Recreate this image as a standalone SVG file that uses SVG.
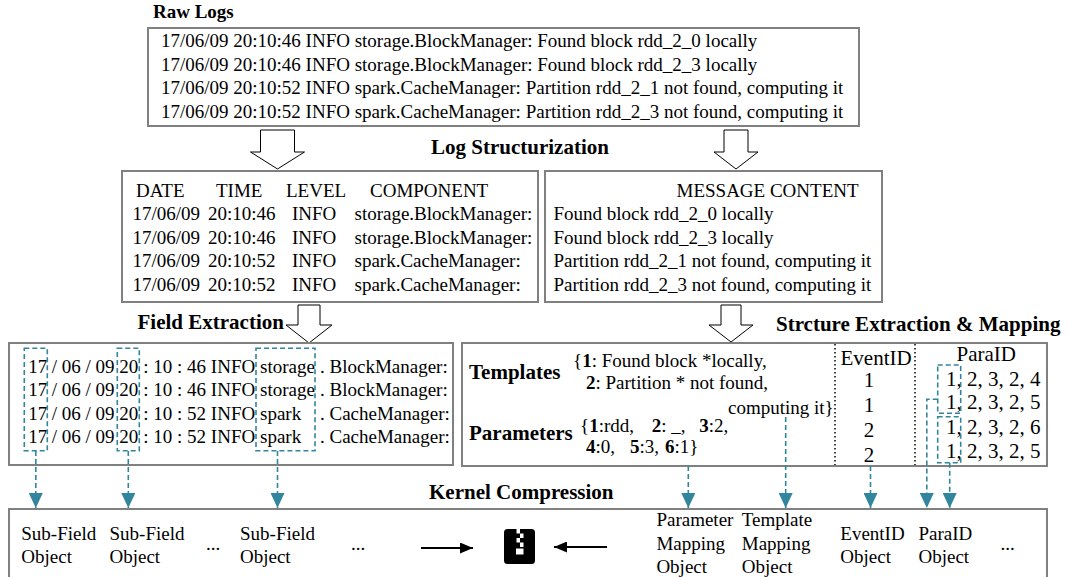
<svg xmlns="http://www.w3.org/2000/svg" width="1069" height="577" viewBox="0 0 1069 577">
<defs>
<style>
.box{fill:#fff;stroke:#808080;stroke-width:2}
.t{font-family:"Liberation Serif","Times New Roman",serif;font-size:19px;fill:#000}
.b{font-weight:bold;font-size:21px}
.bb{font-weight:bold}
.big{font-size:21px}
.dash{fill:none;stroke:#31859C;stroke-width:1.6;stroke-dasharray:5 3}
.dot{stroke:#000;stroke-width:1.5;stroke-dasharray:1.5 2.5}
.blk{fill:#fff;stroke:#000;stroke-width:1}
.conn{fill:none;stroke:#31859C;stroke-width:1.6;stroke-dasharray:5 3}
.arr{fill:none;stroke:#000;stroke-width:1.8}
</style>
<marker id="tealHead" viewBox="0 0 15 14" refX="15" refY="7" markerWidth="15" markerHeight="14" markerUnits="userSpaceOnUse" orient="auto">
<path d="M0,0 L15,7 L0,14 Z" fill="#31859C"/>
</marker>
<marker id="blackHead" viewBox="0 0 13 11" refX="13" refY="5.5" markerWidth="13" markerHeight="11" markerUnits="userSpaceOnUse" orient="auto">
<path d="M0,0 L13,5.5 L0,11 Z" fill="#000"/>
</marker>
</defs>
<rect width="1069" height="577" fill="#fff"/>

<g id="raw-logs">
<text class="t b" x="153" y="18" style="font-size:19px">Raw Logs</text>
<rect class="box" x="148" y="28" width="711" height="98"/>
<text class="t" x="161" y="47">17/06/09 20:10:46 INFO storage.BlockManager: Found block rdd_2_0 locally</text>
<text class="t" x="161" y="70.5">17/06/09 20:10:46 INFO storage.BlockManager: Found block rdd_2_3 locally</text>
<text class="t" x="161" y="94">17/06/09 20:10:52 INFO spark.CacheManager: Partition rdd_2_1 not found, computing it</text>
<text class="t" x="161" y="117.5">17/06/09 20:10:52 INFO spark.CacheManager: Partition rdd_2_3 not found, computing it</text>
</g>

<g id="log-structurization">
<path class="blk" d="M260.5,130 H294.5 V152 H304.5 L277.5,169 L250.5,152 H260.5 Z"/>
<path class="blk" d="M724,130 H748 V152 H758 L736,169 L714,152 H724 Z"/>
<text class="t b" x="431" y="154">Log Structurization</text>
</g>

<g id="structured-fields">
<rect class="box" x="122" y="171" width="416" height="131"/>
<text class="t" y="197"><tspan x="136">DATE</tspan><tspan x="216">TIME</tspan><tspan x="286">LEVEL</tspan><tspan x="370">COMPONENT</tspan></text>
<text class="t" y="220"><tspan x="132.5">17/06/09</tspan><tspan x="208">20:10:46</tspan><tspan x="292">INFO</tspan><tspan x="354.5">storage.BlockManager:</tspan></text>
<text class="t" y="243.5"><tspan x="132.5">17/06/09</tspan><tspan x="208">20:10:46</tspan><tspan x="292">INFO</tspan><tspan x="354.5">storage.BlockManager:</tspan></text>
<text class="t" y="267"><tspan x="132.5">17/06/09</tspan><tspan x="208">20:10:52</tspan><tspan x="292">INFO</tspan><tspan x="354.5">spark.CacheManager:</tspan></text>
<text class="t" y="290.5"><tspan x="132.5">17/06/09</tspan><tspan x="208">20:10:52</tspan><tspan x="292">INFO</tspan><tspan x="354.5">spark.CacheManager:</tspan></text>
</g>

<g id="message-content">
<rect class="box" x="545" y="171" width="337" height="131"/>
<text class="t" x="676.5" y="197">MESSAGE CONTENT</text>
<text class="t" x="553.5" y="220">Found block rdd_2_0 locally</text>
<text class="t" x="553.5" y="243.5">Found block rdd_2_3 locally</text>
<text class="t" x="553.5" y="267">Partition rdd_2_1 not found, computing it</text>
<text class="t" x="553.5" y="290.5">Partition rdd_2_3 not found, computing it</text>
</g>

<g id="field-extraction">
<text class="t b" x="137.5" y="329">Field Extraction</text>
<path class="blk" d="M298,305 H320 V325 H332 L309,343 L286,325 H298 Z"/>
<rect class="box" x="9" y="343" width="444" height="122"/>
<text class="t" y="373"><tspan x="28.3">17</tspan><tspan x="51.7">/ 06 / 09</tspan><tspan x="119.3">20</tspan><tspan x="143.3">: 10 : 46 INFO</tspan><tspan x="260">storage</tspan><tspan x="320">. BlockManager:</tspan></text>
<text class="t" y="396"><tspan x="28.3">17</tspan><tspan x="51.7">/ 06 / 09</tspan><tspan x="119.3">20</tspan><tspan x="143.3">: 10 : 46 INFO</tspan><tspan x="260">storage</tspan><tspan x="320">. BlockManager:</tspan></text>
<text class="t" y="419.5"><tspan x="28.3">17</tspan><tspan x="51.7">/ 06 / 09</tspan><tspan x="119.3">20</tspan><tspan x="143.3">: 10 : 52 INFO</tspan><tspan x="260">spark</tspan><tspan x="320">. CacheManager:</tspan></text>
<text class="t" y="443"><tspan x="28.3">17</tspan><tspan x="51.7">/ 06 / 09</tspan><tspan x="119.3">20</tspan><tspan x="143.3">: 10 : 52 INFO</tspan><tspan x="260">spark</tspan><tspan x="320">. CacheManager:</tspan></text>
<rect class="dash" x="24.3" y="348.3" width="23" height="102.4"/>
<rect class="dash" x="117.3" y="348.3" width="22" height="102.4"/>
<rect class="dash" x="256" y="348.3" width="59" height="102.4"/>
</g>

<g id="structure-extraction">
<text class="t b" x="776" y="331">Strcture Extraction &amp; Mapping</text>
<path class="blk" d="M721,305 H741 V325 H753 L731,342 L709,325 H721 Z"/>
<rect class="box" x="462" y="343" width="585" height="123"/>
<text class="t b" x="469" y="379">Templates</text>
<text class="t b" x="469" y="440">Parameters</text>
<text class="t" x="573" y="367">{<tspan class="bb">1</tspan>: Found block *locally,</text>
<text class="t" x="586" y="389"><tspan class="bb">2</tspan>: Partition * not found,</text>
<text class="t" x="728" y="414">computing it}</text>
<text class="t" y="432"><tspan x="580">{</tspan><tspan class="bb">1</tspan>:rdd,<tspan x="651.7" class="bb">2</tspan>: _,<tspan x="699.3" class="bb">3</tspan>:2,</text>
<text class="t" y="453"><tspan x="586" class="bb">4</tspan>:0,<tspan x="630" class="bb">5</tspan>:3,<tspan x="665" class="bb">6</tspan>:1}</text>
<line class="dot" x1="835" y1="344" x2="835" y2="465"/>
<line class="dot" x1="915" y1="344" x2="915" y2="465"/>
<text class="t big" x="840.5" y="365">EventID</text>
<text class="t big" x="869" y="387" text-anchor="middle">1</text>
<text class="t big" x="869" y="411.5" text-anchor="middle">1</text>
<text class="t big" x="869" y="436.5" text-anchor="middle">2</text>
<text class="t big" x="869" y="461.5" text-anchor="middle">2</text>
<text class="t big" x="956.5" y="361">ParaID</text>
<text class="t big" x="946" y="385.5">1, 2, 3, 2, 4</text>
<text class="t big" x="946" y="409">1, 2, 3, 2, 5</text>
<text class="t big" x="946" y="433.5">1, 2, 3, 2, 6</text>
<text class="t big" x="946" y="458">1, 2, 3, 2, 5</text>
<rect class="dash" x="937.7" y="365" width="23" height="48.3"/>
<rect class="dash" x="937.7" y="416.7" width="23" height="46"/>
</g>

<g id="kernel-compression">
<text class="t b" x="429" y="499">Kernel Compression</text>
<rect class="box" x="9" y="509" width="1038" height="75"/>
<text class="t" x="21.3" y="540">Sub-Field</text>
<text class="t" x="21.3" y="563">Object</text>
<text class="t" x="109.5" y="540">Sub-Field</text>
<text class="t" x="109.5" y="563">Object</text>
<text class="t" x="206" y="550">...</text>
<text class="t" x="240" y="540">Sub-Field</text>
<text class="t" x="240" y="563">Object</text>
<text class="t" x="351" y="550">...</text>
<line class="arr" x1="421" y1="548" x2="473" y2="548" marker-end="url(#blackHead)"/>
<line class="arr" x1="607" y1="547" x2="554" y2="547" marker-end="url(#blackHead)"/>
<g id="zip-icon">
<rect x="504" y="529" width="31" height="35" rx="3.5" fill="#000"/>
<rect x="516.5" y="529" width="3.5" height="4.5" fill="#fff"/>
<rect x="520" y="533.5" width="3.5" height="4.5" fill="#fff"/>
<rect x="516.5" y="538" width="3.5" height="4.5" fill="#fff"/>
<rect x="520" y="542.5" width="3.5" height="4.5" fill="#fff"/>
<rect x="516" y="548.5" width="7.5" height="6" fill="#fff"/>
</g>
<text class="t" x="656.4" y="526">Parameter</text>
<text class="t" x="656.4" y="549.5">Mapping</text>
<text class="t" x="656.4" y="573">Object</text>
<text class="t" x="741.8" y="526">Template</text>
<text class="t" x="741.8" y="549.5">Mapping</text>
<text class="t" x="741.8" y="573">Object</text>
<text class="t" x="840.3" y="540">EventID</text>
<text class="t" x="840.3" y="563">Object</text>
<text class="t" x="918.5" y="540">ParaID</text>
<text class="t" x="918.5" y="563">Object</text>
<text class="t" x="1000.5" y="550">...</text>
</g>

<g id="connectors">
<path class="conn" d="M35.8,451 V508" marker-end="url(#tealHead)"/>
<path class="conn" d="M128.3,451 V508" marker-end="url(#tealHead)"/>
<path class="conn" d="M277.5,451 V508" marker-end="url(#tealHead)"/>
<path class="conn" d="M688.3,466 V508" marker-end="url(#tealHead)"/>
<path class="conn" d="M785.7,417 V508" marker-end="url(#tealHead)"/>
<path class="conn" d="M870.5,466 V508" marker-end="url(#tealHead)"/>
<path class="conn" d="M937.7,399.3 H926.8 V508" marker-end="url(#tealHead)"/>
<path class="conn" d="M949.7,462.7 V508" marker-end="url(#tealHead)"/>
</g>
</svg>
